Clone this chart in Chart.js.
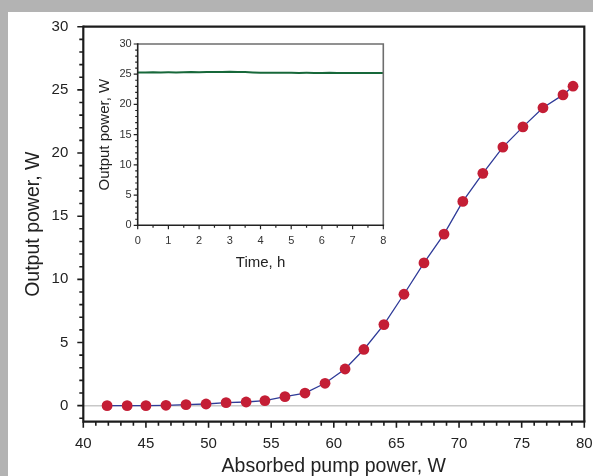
<!DOCTYPE html>
<html>
<head>
<meta charset="utf-8">
<script src="https://cdn.jsdelivr.net/npm/chart.js@4/dist/chart.umd.min.js"></script>
<style>
  html, body { margin: 0; padding: 0; }
  body { width: 593px; height: 476px; background: #b3b3b3; position: relative; overflow: hidden; }
  #panel { position: absolute; left: 8px; top: 12px; width: 585px; height: 464px; background: #ffffff; }
  #main { position: absolute; left: 8px; top: 12px; }
  #inset { position: absolute; left: 92px; top: 36px; }
</style>
</head>
<body>
<div id="panel"></div>
<canvas id="main" width="585" height="464"></canvas>
<canvas id="inset" width="300" height="236"></canvas>
<script>
// ---- Main chart data ----
const pumpPower = [41.9, 43.5, 45.0, 46.6, 48.2, 49.8, 51.4, 53.0, 54.5, 56.1, 57.7, 59.3, 60.9,
                   62.4, 64.0, 65.6, 67.2, 68.8, 70.3, 71.9, 73.5, 75.1, 76.7, 78.3, 79.1];
const outputPower = [0, 0, 0, 0.03, 0.08, 0.13, 0.24, 0.29, 0.4, 0.71, 1.0, 1.77, 2.9,
                     4.45, 6.42, 8.82, 11.3, 13.58, 16.17, 18.39, 20.47, 22.07, 23.58, 24.6, 25.29];
const mainXTicks = [40, 45, 50, 55, 60, 65, 70, 75, 80];
const mainYTicks = [0, 5, 10, 15, 20, 25, 30];

// ---- Inset data (stability over time) ----
const timeHours = [0, 0.25, 0.5, 0.75, 1, 1.25, 1.5, 1.75, 2, 2.25, 2.5, 2.75, 3, 3.25, 3.5, 3.75,
                   4, 4.25, 4.5, 4.75, 5, 5.25, 5.5, 5.75, 6, 6.25, 6.5, 6.75, 7, 7.25, 7.5, 7.75, 8];
const stablePower = [25.3, 25.3, 25.32, 25.3, 25.31, 25.3, 25.33, 25.35, 25.34, 25.36, 25.38, 25.37, 25.4,
                     25.38, 25.35, 25.3, 25.25, 25.24, 25.25, 25.23, 25.24, 25.22, 25.23, 25.22, 25.22,
                     25.23, 25.21, 25.22, 25.22, 25.21, 25.22, 25.22, 25.22];
const insetXTicks = [0, 1, 2, 3, 4, 5, 6, 7, 8];
const insetYTicks = [0, 5, 10, 15, 20, 25, 30];

const FONT = "'Liberation Sans', Arial, Helvetica, sans-serif";
const CLEAR = 'rgba(0,0,0,0)';

// Plugin: draw frame and outward major/minor tick marks using the chart's own scales
function frameTicksPlugin(cfg) {
  return {
    id: 'frameTicks',
    afterDraw(chart) {
      const ctx = chart.ctx;
      const a = chart.chartArea;
      const xs = chart.scales.x, ys = chart.scales.y;
      ctx.save();
      ctx.lineCap = 'butt';
      ctx.strokeStyle = cfg.frameColor;
      ctx.lineWidth = cfg.frameWidth;
      ctx.beginPath();
      ctx.moveTo(a.left, a.top); ctx.lineTo(a.right, a.top); ctx.lineTo(a.right, a.bottom);
      ctx.stroke();
      ctx.strokeStyle = cfg.axisColor;
      ctx.lineWidth = cfg.axisWidth;
      ctx.beginPath();
      ctx.moveTo(a.left, a.top - cfg.axisWidth / 2); ctx.lineTo(a.left, a.bottom); ctx.lineTo(a.right + cfg.axisWidth / 2, a.bottom);
      ctx.stroke();
      ctx.lineWidth = cfg.tickWidth;
      ctx.beginPath();
      const eps = 1e-9;
      for (let v = xs.min; v <= xs.max + eps; v += cfg.xMinor) {
        const major = Math.abs(v / cfg.xMajor - Math.round(v / cfg.xMajor)) < 1e-6;
        const px = xs.getPixelForValue(v);
        const len = major ? cfg.majorLen : cfg.minorLen;
        ctx.moveTo(px, a.bottom); ctx.lineTo(px, a.bottom + len);
      }
      const yStart = Math.ceil(ys.min / cfg.yMinor) * cfg.yMinor;
      for (let v = yStart; v <= ys.max + eps; v += cfg.yMinor) {
        const major = Math.abs(v / cfg.yMajor - Math.round(v / cfg.yMajor)) < 1e-6;
        const py = ys.getPixelForValue(v);
        const len = major ? cfg.majorLen : cfg.minorLen;
        ctx.moveTo(a.left, py); ctx.lineTo(a.left - len, py);
      }
      ctx.stroke();
      ctx.restore();
    }
  };
}

function keepTicks(list) {
  return function (scale) {
    scale.ticks = list.filter(v => v >= scale.min - 1e-9 && v <= scale.max + 1e-9).map(v => ({ value: v }));
  };
}

// ---- Main chart ----
new Chart(document.getElementById('main'), {
  type: 'scatter',
  data: {
    datasets: [{
      data: pumpPower.map((x, i) => ({ x: x, y: outputPower[i] })),
      showLine: true,
      borderColor: '#2f3b98',
      borderWidth: 1.3,
      backgroundColor: '#c41e35',
      pointBackgroundColor: '#c41e35',
      pointBorderWidth: 0,
      pointRadius: 5.4,
      tension: 0
    }]
  },
  options: {
    responsive: false,
    animation: false,
    devicePixelRatio: 1,
    layout: { padding: { top: 14.7, right: 8.7, left: 0, bottom: 0 } },
    plugins: { legend: { display: false }, tooltip: { enabled: false } },
    scales: {
      x: {
        type: 'linear', min: 40, max: 80,
        afterBuildTicks: keepTicks(mainXTicks),
        afterFit(s) { s.height = 54.3; },
        grid: { display: true, drawOnChartArea: false, drawTicks: true, tickLength: 13, tickColor: CLEAR, color: CLEAR },
        border: { display: false },
        ticks: { color: '#222', font: { family: FONT, size: 15 }, padding: 0, maxRotation: 0 },
        title: { display: true, text: 'Absorbed pump power, W', color: '#222',
                 font: { family: FONT, size: 19.5, lineHeight: 1.0 }, padding: { top: 0, bottom: 0 } }
      },
      y: {
        type: 'linear', min: -1.27, max: 30,
        afterBuildTicks: keepTicks(mainYTicks),
        afterFit(s) { s.width = 75.3; },
        grid: {
          drawTicks: true, tickLength: 15, tickColor: CLEAR,
          color: ctx => (ctx.tick && ctx.tick.value === 0) ? '#c8c8c8' : CLEAR,
          lineWidth: 1.5
        },
        border: { display: false },
        ticks: { color: '#222', font: { family: FONT, size: 15 }, padding: 0 },
        title: { display: true, text: 'Output power, W', color: '#222',
                 font: { family: FONT, size: 19.5 }, padding: { top: 14, bottom: 0 } }
      }
    }
  },
  plugins: [frameTicksPlugin({
    frameColor: '#1c1c1c', frameWidth: 2.2, axisColor: '#1c1c1c', axisWidth: 2.2, tickWidth: 1.6,
    xMajor: 5, xMinor: 1, yMajor: 5, yMinor: 1, majorLen: 6, minorLen: 4
  })]
});

// ---- Inset chart ----
new Chart(document.getElementById('inset'), {
  type: 'scatter',
  data: {
    datasets: [{
      data: timeHours.map((t, i) => ({ x: t, y: stablePower[i] })),
      showLine: true,
      borderColor: '#17683a',
      borderWidth: 2,
      pointRadius: 0,
      tension: 0
    }]
  },
  options: {
    responsive: false,
    animation: false,
    devicePixelRatio: 1,
    layout: { padding: { top: 8, right: 8.7, left: 0, bottom: 0 } },
    plugins: { legend: { display: false }, tooltip: { enabled: false } },
    scales: {
      x: {
        type: 'linear', min: 0, max: 8,
        afterBuildTicks: keepTicks(insetXTicks),
        afterFit(s) { s.height = 46.7; },
        grid: { display: true, drawOnChartArea: false, drawTicks: true, tickLength: 9, tickColor: CLEAR, color: CLEAR },
        border: { display: false },
        ticks: { color: '#333', font: { family: FONT, size: 11 }, padding: 0, maxRotation: 0 },
        title: { display: true, text: 'Time, h', color: '#222',
                 font: { family: FONT, size: 15 }, padding: { top: 0, bottom: 0 } }
      },
      y: {
        type: 'linear', min: 0, max: 30,
        afterBuildTicks: keepTicks(insetYTicks),
        afterFit(s) { s.width = 45.7; },
        grid: { display: true, drawOnChartArea: false, drawTicks: true, tickLength: 6, tickColor: CLEAR, color: CLEAR },
        border: { display: false },
        ticks: { color: '#333', font: { family: FONT, size: 11 }, padding: 0 },
        title: { display: true, text: 'Output power, W', color: '#222',
                 font: { family: FONT, size: 15 }, padding: { top: 4, bottom: 0 } }
      }
    }
  },
  plugins: [frameTicksPlugin({
    frameColor: '#6e6e6e', frameWidth: 1.6, axisColor: '#222', axisWidth: 1.6, tickWidth: 1.2,
    xMajor: 1, xMinor: 0.5, yMajor: 5, yMinor: 1, majorLen: 4, minorLen: 2.5
  })]
});
</script>
</body>
</html>
